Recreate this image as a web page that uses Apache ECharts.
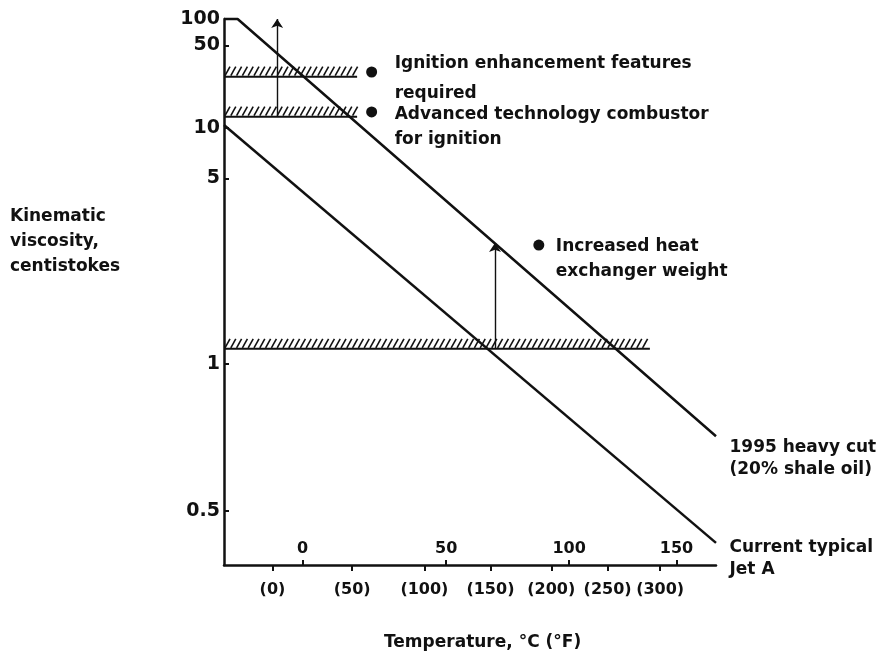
<!DOCTYPE html>
<html>
<head>
<meta charset="utf-8">
<script src="https://cdn.jsdelivr.net/npm/echarts@6/dist/echarts.min.js"></script>
<style>
html, body { margin: 0; padding: 0; background: #fff; }
#chart { width: 882px; height: 671px; }
</style>
</head>
<body>
<div id="chart"></div>
<script>
// viscosity (centistokes) against temperature (deg C)
const heavyCutTemp = [-24, -20, 170];
const heavyCutVisc = [100, 100, 0.68];
const jetATemp = [-24, 170];
const jetAVisc = [10.5, 0.45];

// hatched limit lines
const bandVisc = [25, 12, 1.1];
const bandFromTemp = [-24, -24, -24];
const bandToTemp = [18, 18, 137];

// arrows
const arrowTemp = [-8, 69];
const arrowFromVisc = [12, 1.1];
const arrowToVisc = [100, 2.5];

// bullet notes
const noteTemp = [23, 23, 87];
const noteVisc = [27.5, 13, 2.45];
const noteText = [
    'Ignition enhancement features\nrequired',
    'Advanced technology combustor\nfor ignition',
    'Increased heat\nexchanger weight'
];
const lineNames = ['1995 heavy cut\n(20% shale oil)', 'Current typical\nJet A'];

// tick labels
const viscTicks = [0.5, 1, 5, 10, 50, 100];
const celsiusTicks = [0, 50, 100, 150];
const fahrenheitTicks = [0, 50, 100, 150, 200, 250, 300];

const FONT = 'DejaVu Sans';
const INK = '#111';

// the chart uses a viscosity-temperature paper: log(log(v + c)) against log(T abs)
const vs = v => Math.log10(Math.log10(v + 0.76));
const vsInv = y => Math.pow(10, Math.pow(10, y)) - 0.76;
const toK = c => c + 273.15;
const fToR = f => f + 459.67;

const txt = (size, extra) => Object.assign({
    fontFamily: FONT, fontWeight: 'bold', fontSize: size, color: INK
}, extra || {});

// hatch band: base line with short slanted strokes on top
function renderBand(params, api) {
    const a = api.coord([api.value(0), api.value(2)]);
    const b = api.coord([api.value(1), api.value(2)]);
    const kids = [{
        type: 'line',
        shape: { x1: a[0], y1: a[1], x2: b[0], y2: b[1] },
        style: { stroke: INK, lineWidth: 2 }
    }];
    for (let x = a[0] + 1; x + 5 <= b[0] + 2; x += 5.8) {
        kids.push({
            type: 'line',
            shape: { x1: x, y1: a[1] - 1, x2: x + 5, y2: a[1] - 10 },
            style: { stroke: INK, lineWidth: 1.6 }
        });
    }
    return { type: 'group', children: kids };
}

const notePos = [[28.5, -17.5], [28.5, -4], [22.5, -5]];
const noteLineH = [30, 25, 25];
const notes = noteTemp.map((t, i) => ({
    value: [toK(t), vs(noteVisc[i])],
    label: { formatter: noteText[i], position: notePos[i], lineHeight: noteLineH[i] }
}));

const ends = [
    [heavyCutTemp[heavyCutTemp.length - 1], heavyCutVisc[heavyCutVisc.length - 1], [14, 1]],
    [jetATemp[jetATemp.length - 1], jetAVisc[jetAVisc.length - 1], [14, -6]]
];
const endNotes = ends.map((e, i) => ({
    value: [toK(e[0]), vs(e[1])],
    label: { formatter: lineNames[i], position: e[2] }
}));

const chart = echarts.init(document.getElementById('chart'));
const option = {
    animation: false,
    backgroundColor: '#fff',
    title: [
        { text: 'Kinematic\nviscosity,\ncentistokes', left: 10, top: 204, padding: 0,
          textStyle: txt(17, { lineHeight: 25 }) },
        { text: 'Temperature, °C (°F)', left: 384, top: 632, padding: 0,
          textStyle: txt(17, { lineHeight: 22 }) }
    ],
    grid: { left: 224, right: 166, top: 19, bottom: 106, containLabel: false, outerBoundsMode: 'none' },
    xAxis: [
        {
            type: 'log', min: toK(-24), max: toK(170), position: 'bottom',
            axisLine: { onZero: false, lineStyle: { color: INK, width: 2.5 } },
            axisTick: { inside: true, length: 5, customValues: celsiusTicks.map(toK),
                        lineStyle: { color: INK, width: 2 } },
            axisLabel: Object.assign(txt(16), { inside: true, margin: 8,
                        customValues: celsiusTicks.map(toK),
                        formatter: v => String(Math.round(v - 273.15)) }),
            splitLine: { show: false }
        },
        {
            type: 'log', min: fToR(-28), max: fToR(357), position: 'bottom',
            axisLine: { show: false, onZero: false },
            axisTick: { length: 6, customValues: fahrenheitTicks.map(fToR),
                        lineStyle: { color: INK, width: 2 } },
            axisLabel: Object.assign(txt(16), { margin: 17,
                        customValues: fahrenheitTicks.map(fToR),
                        formatter: v => '(' + Math.round(v - 459.67) + ')' }),
            splitLine: { show: false }
        }
    ],
    yAxis: {
        type: 'value', min: -1.1406, max: vs(100),
        axisLine: { show: true, onZero: false, lineStyle: { color: INK, width: 2.5 } },
        axisTick: { show: true, inside: true, length: 5, customValues: viscTicks.map(vs),
                    lineStyle: { color: INK, width: 2 } },
        axisLabel: Object.assign(txt(19), { margin: 4, customValues: viscTicks.map(vs),
                    formatter: v => String(+vsInv(v).toFixed(2)) }),
        splitLine: { show: false }
    },
    series: [
        {
            type: 'custom', name: 'limits', xAxisIndex: 0,
            renderItem: renderBand,
            encode: { x: [0, 1], y: 2 },
            data: bandVisc.map((v, i) => [toK(bandFromTemp[i]), toK(bandToTemp[i]), vs(v)]),
            clip: false
        },
        {
            type: 'line', name: '1995 heavy cut', xAxisIndex: 0,
            data: heavyCutTemp.map((t, i) => [toK(t), vs(heavyCutVisc[i])]),
            showSymbol: false, clip: false,
            lineStyle: { color: INK, width: 2.5 }
        },
        {
            type: 'line', name: 'Current typical Jet A', xAxisIndex: 0,
            data: jetATemp.map((t, i) => [toK(t), vs(jetAVisc[i])]),
            showSymbol: false, clip: false,
            lineStyle: { color: INK, width: 2.5 }
        },
        {
            type: 'lines', coordinateSystem: 'cartesian2d', xAxisIndex: 0,
            symbol: ['none', 'arrow'], symbolSize: 9,
            lineStyle: { color: INK, width: 1.4, opacity: 1 },
            data: arrowTemp.map((t, i) => ({
                coords: [[toK(t), vs(arrowFromVisc[i])], [toK(t), vs(arrowToVisc[i])]]
            }))
        },
        {
            type: 'scatter', name: 'notes', xAxisIndex: 0, clip: false,
            symbol: 'circle', symbolSize: 11,
            itemStyle: { color: INK, opacity: 1 },
            label: Object.assign(txt(17), { show: true, align: 'left', verticalAlign: 'top', opacity: 1 }),
            data: notes
        },
        {
            type: 'scatter', name: 'line names', xAxisIndex: 0, clip: false,
            symbol: 'circle', symbolSize: 1,
            itemStyle: { color: 'rgba(0,0,0,0)', opacity: 1 },
            label: Object.assign(txt(17), { show: true, align: 'left', verticalAlign: 'top',
                                            lineHeight: 22, opacity: 1 }),
            data: endNotes
        }
    ]
};
chart.setOption(option);
</script>
</body>
</html>
